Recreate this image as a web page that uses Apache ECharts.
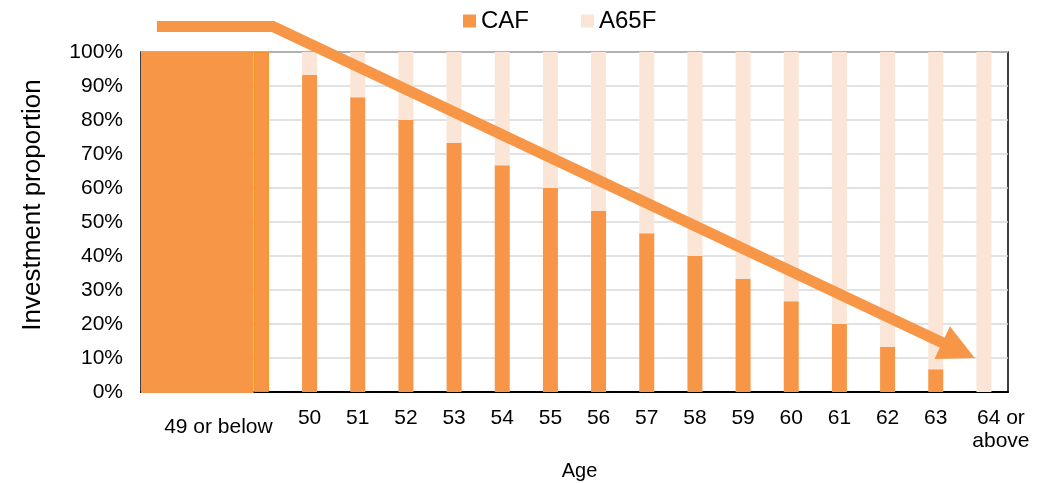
<!DOCTYPE html>
<html>
<head>
<meta charset="utf-8">
<script src="https://cdn.jsdelivr.net/npm/echarts@6/dist/echarts.min.js"></script>
<style>
html,body{margin:0;padding:0;background:#fff;}
#chart{width:1056px;height:483px;}
</style>
</head>
<body>
<div id="chart"></div>
<script>
// ---- data ----
const categories = ['', ' ', '49 or below', '50', '51', '52', '53', '54', '55', '56', '57', '58', '59', '60', '61', '62', '63', '64 or\nabove'];
const cafValues  = [null, null, 100, 93.3, 86.7, 80, 73.3, 66.7, 60, 53.3, 46.7, 40, 33.3, 26.7, 20, 13.3, 6.7, 0];
const a65fValues = [null, null, 0, 6.7, 13.3, 20, 26.7, 33.3, 40, 46.7, 53.3, 60, 66.7, 73.3, 80, 86.7, 93.3, 100];
const seriesNames = ['CAF', 'A65F'];
// annotation shapes in data space (category index, percent)
const coverRect = [[-0.5, 100], [1.84, 0]];
const arrowPath = [[-0.17, 107.5], [2.24, 107.5], [16.81, 10]];

const FONT = "'Liberation Sans', Arial, sans-serif";
const ORANGE = '#F79646';
const PEACH = '#FBE5D6';

const chart = echarts.init(document.getElementById('chart'));

const labelPads = { 2: [9, 86, 0, 0], 17: [0, 0, 0, 34] };
const xData = categories.map((c, i) => labelPads[i]
  ? { value: c, textStyle: { padding: labelPads[i] } }
  : c);

const option = {
  backgroundColor: '#fff',
  animation: false,
  textStyle: { fontFamily: FONT },
  legend: {
    data: seriesNames,
    left: 458, top: 4,
    icon: 'rect', itemWidth: 13, itemHeight: 13, itemGap: 52,
    textStyle: { fontSize: 24, color: '#000', fontFamily: FONT }
  },
  grid: {
    left: 141, right: 48, top: 52, bottom: 91,
    show: true, borderColor: '#000', borderWidth: 1.5,
    containLabel: false, outerBoundsMode: 'none'
  },
  xAxis: [{
    type: 'category',
    data: xData,
    name: 'Age', nameLocation: 'middle', nameGap: 69,
    nameTextStyle: { fontSize: 20, color: '#000', fontFamily: FONT, padding: [0, 0, 0, 10] },
    axisLine: { show: true, lineStyle: { color: '#000', width: 2 } },
    axisTick: { show: false },
    axisLabel: { interval: 0, fontSize: 21, color: '#000', margin: 15, lineHeight: 23, fontFamily: FONT, hideOverlap: false },
    splitLine: { show: false }
  }, {
    type: 'value', min: -0.5, max: 17.5, show: false, gridIndex: 0
  }],
  yAxis: {
    type: 'value', min: 0, max: 100, interval: 10,
    name: 'Investment proportion', nameLocation: 'middle', nameGap: 95, nameRotate: 90,
    nameTextStyle: { fontSize: 26, color: '#000', fontFamily: FONT, padding: [0, 0, 0, 34] },
    axisLine: { show: false },
    axisTick: { show: false },
    axisLabel: { formatter: '{value}%', fontSize: 21, color: '#000', margin: 18, fontFamily: FONT },
    splitLine: { lineStyle: { color: '#D9D9D9', width: 1.5 } }
  },
  series: [
    {
      name: 'CAF', type: 'bar', stack: 'total', barWidth: 15,
      itemStyle: { color: ORANGE },
      data: cafValues.map((v, i) => i === 2 ? { value: v, itemStyle: { borderColor: '#F3901C', borderWidth: 1 } } : v),
      z: 2
    },
    {
      name: 'A65F', type: 'bar', stack: 'total', barWidth: 15,
      itemStyle: { color: PEACH },
      data: a65fValues, z: 2
    },
    {
      type: 'custom', xAxisIndex: 1, yAxisIndex: 0, clip: false, z: 3,
      silent: true,
      data: [[0, 0]],
      renderItem: function (params, api) {
        const a = api.coord(coverRect[0]);
        const b = api.coord(coverRect[1]);
        return {
          type: 'rect',
          shape: { x: a[0], y: a[1], width: b[0] - a[0], height: b[1] - a[1] + 1 },
          style: { fill: ORANGE }
        };
      }
    },
    {
      type: 'custom', xAxisIndex: 1, yAxisIndex: 0, clip: false, z: 5,
      silent: true,
      data: [[0, 0]],
      renderItem: function (params, api) {
        const p = arrowPath.map(pt => api.coord(pt));
        const c = p[1], t = p[2];
        const dx = t[0] - c[0], dy = t[1] - c[1];
        const len = Math.sqrt(dx * dx + dy * dy);
        const ux = dx / len, uy = dy / len;
        const headLen = 36, headHalf = 18;
        const base = [t[0] - ux * headLen, t[1] - uy * headLen];
        const px = -uy, py = ux;
        return {
          type: 'group',
          children: [
            {
              type: 'polyline',
              shape: { points: [p[0], p[1], [base[0] + ux * 2, base[1] + uy * 2]] },
              style: { stroke: ORANGE, lineWidth: 11, fill: null, lineJoin: 'miter', lineCap: 'butt' }
            },
            {
              type: 'polygon',
              shape: { points: [t, [base[0] + px * headHalf, base[1] + py * headHalf], [base[0] - px * headHalf, base[1] - py * headHalf]] },
              style: { fill: ORANGE }
            }
          ]
        };
      }
    }
  ]
};
chart.setOption(option);
</script>
</body>
</html>
